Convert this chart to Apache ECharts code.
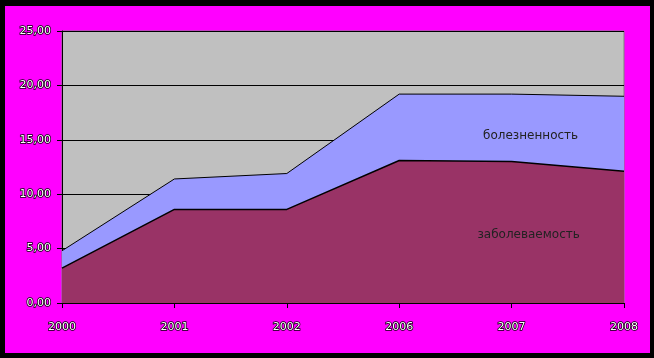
<!DOCTYPE html>
<html><head><meta charset="utf-8">
<script src="https://cdn.jsdelivr.net/npm/echarts@6/dist/echarts.min.js"></script>
<style>html,body{margin:0;padding:0;background:#000;}#c{width:654px;height:358px;}</style>
</head><body><div id="c"></div>
<script>
const years = ['2000','2001','2002','2006','2007','2008'];
const bolezn = [4.8, 11.4, 11.9, 19.2, 19.2, 19.0];
const zabol = [3.2, 8.6, 8.6, 13.1, 13.0, 12.1];
const yTicks = [0, 5, 10, 15, 20, 25];

const chart = echarts.init(document.getElementById('c'), null, {renderer: 'canvas'});
const lblStyle = {color: '#fff', fontFamily: 'DejaVu Sans', fontSize: 11, textBorderColor: '#000', textBorderWidth: 1.5};
chart.setOption({
  backgroundColor: '#000',
  animation: false,
  grid: {left: 62, right: 30, top: 31, bottom: 55, show: true, backgroundColor: '#C0C0C0', borderColor: '#808080', borderWidth: 1},
  xAxis: {
    type: 'category', data: years, boundaryGap: false,
    axisLine: {lineStyle: {color: '#000', width: 1}},
    axisTick: {show: true, alignWithLabel: true, length: 5, lineStyle: {color: '#000'}},
    axisLabel: Object.assign({margin: 19}, lblStyle),
    splitLine: {show: false}
  },
  yAxis: {
    type: 'value', min: 0, max: 25, interval: 5,
    axisLine: {show: true, lineStyle: {color: '#000'}},
    axisTick: {show: true, length: 5, lineStyle: {color: '#000'}},
    axisLabel: Object.assign({margin: 11, formatter: v => yTicks.includes(v) ? v.toFixed(2).replace('.', ',') : ''}, lblStyle),
    splitLine: {show: true, lineStyle: {color: '#000', width: 1}}
  },
  series: [
    {name: 'болезненность', type: 'line', data: bolezn, symbol: 'none', z: 2,
     lineStyle: {color: '#000', width: 1}, areaStyle: {color: '#9999FF', opacity: 1}},
    {name: 'заболеваемость', type: 'line', data: zabol, symbol: 'none', z: 3,
     lineStyle: {color: '#000', width: 1.5}, areaStyle: {color: '#993366', opacity: 1}}
  ]
});
const p1 = chart.convertToPixel({gridIndex: 0}, [4, 15.4]);
const p2 = chart.convertToPixel({gridIndex: 0}, [4, 6.3]);
chart.setOption({graphic: [
  {type: 'rect', shape: {x: 5, y: 6, width: 645, height: 347}, style: {fill: '#FF00FF'}, z: -100, silent: true},
  {type: 'text', x: p1[0] + 19, y: p1[1], style: {text: 'болезненность', fill: '#222', font: '12px DejaVu Sans', textAlign: 'center', textVerticalAlign: 'middle'}, z: 100},
  {type: 'text', x: p2[0] + 17, y: p2[1], style: {text: 'заболеваемость', fill: '#222', font: '12px DejaVu Sans', textAlign: 'center', textVerticalAlign: 'middle'}, z: 100}
]});
</script></body></html>
